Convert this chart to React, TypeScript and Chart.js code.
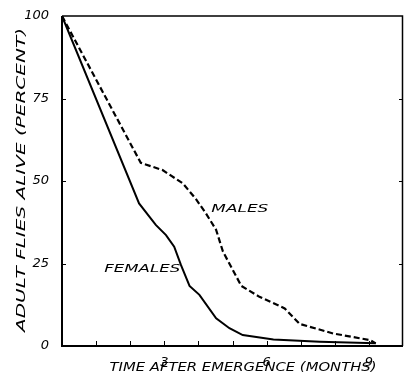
import React, { useEffect, useRef } from "react";
import { Chart, registerables } from "chart.js";

Chart.register(...registerables);

const femaleMonths = [0, 2.26, 2.75, 3.05, 3.29, 3.49, 3.74, 4.03, 4.52, 4.91, 5.3, 6.2, 7.56, 9.2];
const femaleAlive = [100, 43.2, 36.7, 33.6, 30.1, 24.5, 18.2, 15.5, 8.4, 5.4, 3.3, 2.0, 1.3, 0.8];
const maleMonths = [0, 2.31, 2.95, 3.54, 3.93, 4.22, 4.52, 4.72, 5.26, 5.79, 6.53, 6.97, 7.95, 9.03, 9.2];
const maleAlive = [100, 55.5, 53.3, 49.3, 44.5, 40.2, 35.2, 28.6, 18.2, 14.9, 11.4, 6.7, 3.8, 1.8, 0.8];
const xTickLabels = [3, 6, 9];
const yTickLabels = [0, 25, 50, 75, 100];
const xTitle = "TIME AFTER EMERGENCE (MONTHS)";
const yTitle = "ADULT FLIES ALIVE (PERCENT)";
const maleLabel = "MALES";
const femaleLabel = "FEMALES";

function wideText(ctx: any, text: string, x: number, y: number, width: number, font: string, align: "left" | "right" | "center") {
  ctx.save();
  ctx.font = font;
  ctx.textBaseline = "middle";
  ctx.textAlign = "left";
  const w = ctx.measureText(text).width;
  const sx = width / w;
  let left = x;
  if (align === "center") left = x - width / 2;
  if (align === "right") left = x - width;
  ctx.translate(left, y);
  ctx.scale(sx, 1);
  ctx.fillText(text, 0, 0);
  ctx.restore();
}

const decorPlugin = {
  id: "decor",
  afterDraw(chart: any) {
    const { ctx, chartArea, scales } = chart;
    const xs = scales.x;
    const ys = scales.y;
    ctx.save();
    ctx.strokeStyle = "#000";
    ctx.fillStyle = "#000";
    // frame
    ctx.lineWidth = 1.5;
    ctx.beginPath();
    ctx.moveTo(chartArea.left, chartArea.top);
    ctx.lineTo(chartArea.right - 0.5, chartArea.top);
    ctx.lineTo(chartArea.right - 0.5, chartArea.bottom);
    ctx.stroke();
    ctx.lineWidth = 2;
    ctx.beginPath();
    ctx.moveTo(chartArea.left, chartArea.top);
    ctx.lineTo(chartArea.left, chartArea.bottom);
    ctx.lineTo(chartArea.right, chartArea.bottom);
    ctx.stroke();
    // inward ticks
    ctx.lineWidth = 1;
    for (let m = 1; m <= 9; m++) {
      const px = Math.round(xs.getPixelForValue(m)) + 0.5;
      ctx.beginPath();
      ctx.moveTo(px, chartArea.bottom);
      ctx.lineTo(px, chartArea.bottom - 5);
      ctx.stroke();
    }
    for (const v of [25, 50, 75]) {
      const py = Math.round(ys.getPixelForValue(v)) + 0.5;
      ctx.beginPath();
      ctx.moveTo(chartArea.left, py);
      ctx.lineTo(chartArea.left + 4, py);
      ctx.moveTo(chartArea.right, py);
      ctx.lineTo(chartArea.right - 4, py);
      ctx.stroke();
    }
    // series labels
    const lblFont = "italic 11px 'DejaVu Sans'";
    wideText(ctx, maleLabel, xs.getPixelForValue(4.38), ys.getPixelForValue(41.5), 57, lblFont, "left");
    wideText(ctx, femaleLabel, xs.getPixelForValue(3.38) + 3, ys.getPixelForValue(23.3), 76, lblFont, "right");
    // axis titles
    wideText(ctx, xTitle, 243, 368, 267, "italic 11.5px 'DejaVu Sans'", "center");
    ctx.translate(22, 180);
    ctx.rotate(-Math.PI / 2);
    wideText(ctx, yTitle, 0, 0, 304, "italic 12px 'DejaVu Sans'", "center");
    ctx.restore();
  },
};

export default function App() {
  const ref = useRef<HTMLCanvasElement>(null);
  useEffect(() => {
    document.body.style.margin = "0";
    const chart = new Chart(ref.current as HTMLCanvasElement, {
      type: "line",
      data: {
        datasets: [
          {
            label: "FEMALES",
            data: femaleMonths.map((m, i) => ({ x: m, y: femaleAlive[i] })),
            borderColor: "#000",
            borderWidth: 2,
            pointRadius: 0,
            tension: 0,
          },
          {
            label: "MALES",
            data: maleMonths.map((m, i) => ({ x: m, y: maleAlive[i] })),
            borderColor: "#000",
            borderWidth: 2.2,
            borderDash: [6, 3],
            pointRadius: 0,
            tension: 0,
          },
        ],
      },
      options: {
        animation: false,
        responsive: false,
        layout: { padding: { top: 16, right: 1, left: 0, bottom: 0 } },
        plugins: { legend: { display: false }, tooltip: { enabled: false } },
        scales: {
          x: {
            type: "linear",
            min: 0,
            max: 10,
            border: { display: false },
            grid: { display: false },
            afterFit: (s: any) => {
              s.height = 31;
            },
            afterBuildTicks: (s: any) => {
              s.ticks = xTickLabels.map((v) => ({ value: v }));
            },
            ticks: {
              color: "#000",
              font: { family: "'DejaVu Sans'", size: 13, style: "italic" },
              padding: 1,
              maxRotation: 0,
              autoSkip: false,
            },
          },
          y: {
            type: "linear",
            min: 0,
            max: 100,
            border: { display: false },
            grid: { display: false },
            afterFit: (s: any) => {
              s.width = 62;
            },
            afterBuildTicks: (s: any) => {
              s.ticks = yTickLabels.map((v) => ({ value: v }));
            },
            ticks: {
              color: "#000",
              font: { family: "'DejaVu Sans'", size: 13, style: "italic" },
              padding: 5,
            },
          },
        },
      },
      plugins: [decorPlugin],
    });
    return () => chart.destroy();
  }, []);
  return <canvas ref={ref} width={404} height={377} style={{ display: "block" }} />;
}
